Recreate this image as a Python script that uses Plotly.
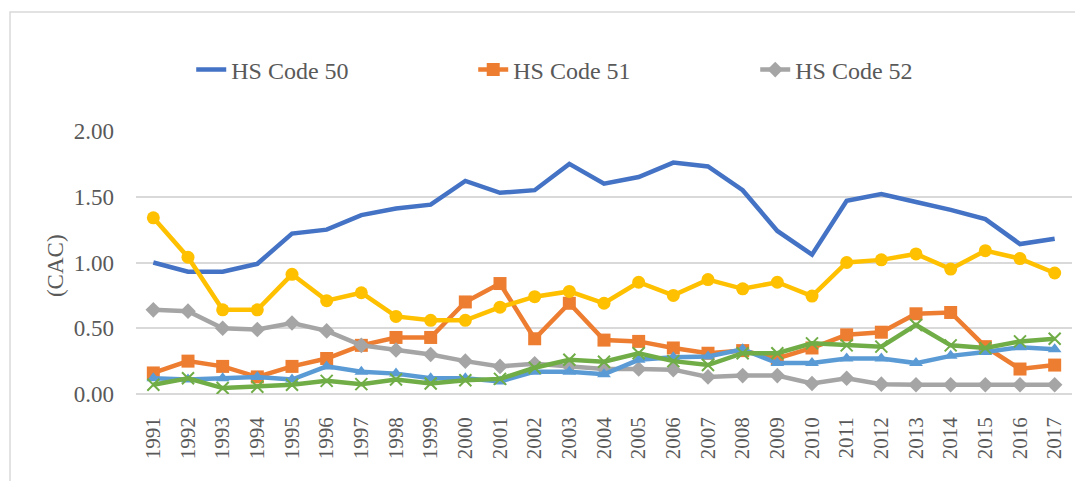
import plotly.graph_objects as go

years = list(range(1991, 2018))

hs50 = [1.00, 0.93, 0.93, 0.99, 1.22, 1.25, 1.36, 1.41, 1.44, 1.62, 1.53, 1.55, 1.75, 1.60,
        1.65, 1.76, 1.73, 1.55, 1.24, 1.06, 1.47, 1.52, 1.46, 1.40, 1.33, 1.14, 1.18]
hs51 = [0.16, 0.25, 0.21, 0.13, 0.21, 0.27, 0.37, 0.43, 0.43, 0.70, 0.84, 0.42, 0.69, 0.41,
        0.40, 0.35, 0.31, 0.33, 0.27, 0.35, 0.45, 0.47, 0.61, 0.62, 0.36, 0.19, 0.22]
hs52 = [0.64, 0.63, 0.50, 0.49, 0.54, 0.48, 0.37, 0.335, 0.30, 0.25, 0.21, 0.23, 0.21, 0.19,
        0.19, 0.185, 0.13, 0.14, 0.14, 0.08, 0.12, 0.075, 0.07, 0.07, 0.07, 0.07, 0.07]
hs53 = [1.34, 1.04, 0.64, 0.64, 0.91, 0.71, 0.77, 0.59, 0.56, 0.56, 0.66, 0.74, 0.78, 0.69,
        0.85, 0.75, 0.87, 0.80, 0.85, 0.745, 1.00, 1.02, 1.065, 0.95, 1.09, 1.03, 0.92]
hs54 = [0.12, 0.11, 0.12, 0.13, 0.11, 0.21, 0.17, 0.155, 0.12, 0.12, 0.095, 0.17, 0.17, 0.15,
        0.26, 0.28, 0.285, 0.34, 0.235, 0.235, 0.27, 0.27, 0.235, 0.29, 0.32, 0.355, 0.34]
hs55 = [0.07, 0.12, 0.045, 0.055, 0.07, 0.10, 0.075, 0.11, 0.08, 0.105, 0.115, 0.20, 0.26, 0.245,
        0.31, 0.25, 0.22, 0.31, 0.31, 0.385, 0.37, 0.36, 0.525, 0.37, 0.35, 0.40, 0.42]

ytick_vals = [0, 0.5, 1.0, 1.5, 2.0]
ytick_text = ["0.00", "0.50", "1.00", "1.50", "2.00"]

series = [
    ("HS Code 50", hs50, "#4472C4", None, True),
    ("HS Code 51", hs51, "#ED7D31", "square", True),
    ("HS Code 52", hs52, "#A5A5A5", "diamond", True),
    ("HS Code 53", hs53, "#FFC000", "circle", False),
    ("HS Code 54", hs54, "#5B9BD5", "triangle-up", False),
    ("HS Code 55", hs55, "#70AD47", "x-thin", False),
]

fig = go.Figure()
for name, vals, color, sym, show in series:
    if sym is None:
        fig.add_trace(go.Scatter(x=years, y=vals, name=name, mode="lines",
                                 line=dict(color=color, width=4.5), showlegend=show))
    else:
        size = 13 if sym in ("circle", "square") else 12
        mk = dict(symbol=sym, size=size, color=color)
        if sym == "x-thin":
            mk = dict(symbol=sym, size=12, color=color, line=dict(color=color, width=2))
        fig.add_trace(go.Scatter(x=years, y=vals, name=name, mode="lines+markers",
                                 line=dict(color=color, width=4.5), marker=mk, showlegend=show))

font_family = "Liberation Serif"
txt_color = "#595959"

fig.update_layout(
    width=1075, height=473,
    margin=dict(l=128, r=11, t=123, b=87, autoexpand=False),
    paper_bgcolor="white", plot_bgcolor="white",
    font=dict(family=font_family, color=txt_color),
    showlegend=True,
    legend=dict(orientation="h", x=0.059, y=1.232, xanchor="left", yanchor="middle",
                entrywidth=237, entrywidthmode="pixels",
                font=dict(family=font_family, size=24, color=txt_color),
                bgcolor="rgba(0,0,0,0)"),
    xaxis=dict(range=[1990.5, 2017.5], tickmode="array", tickvals=years,
               ticktext=[str(y) for y in years], tickangle=-90, showgrid=False,
               showline=False, zeroline=False, ticks="", ticklabelstandoff=18,
               tickfont=dict(family=font_family, size=21, color=txt_color)),
    yaxis=dict(range=[0, 2.0], tickmode="array", tickvals=ytick_vals, ticktext=ytick_text,
               showgrid=True, gridcolor="#D9D9D9", gridwidth=1.5, zeroline=True,
               zerolinecolor="#D9D9D9", zerolinewidth=1.5, showline=False, ticks="",
               ticklabelstandoff=21,
               tickfont=dict(family=font_family, size=23, color=txt_color)),
    annotations=[dict(text="(CAC)", xref="paper", yref="paper", x=-0.0866, y=0.49,
                      textangle=-90, showarrow=False, xanchor="center", yanchor="middle",
                      font=dict(family=font_family, size=23, color=txt_color))],
    shapes=[dict(type="rect", xref="paper", yref="paper", x0=-0.1346, x1=2, y0=-2, y1=1.4525,
                 line=dict(color="#D9D9D9", width=1.5), layer="below")],
)

fig.write_html("out.html")
